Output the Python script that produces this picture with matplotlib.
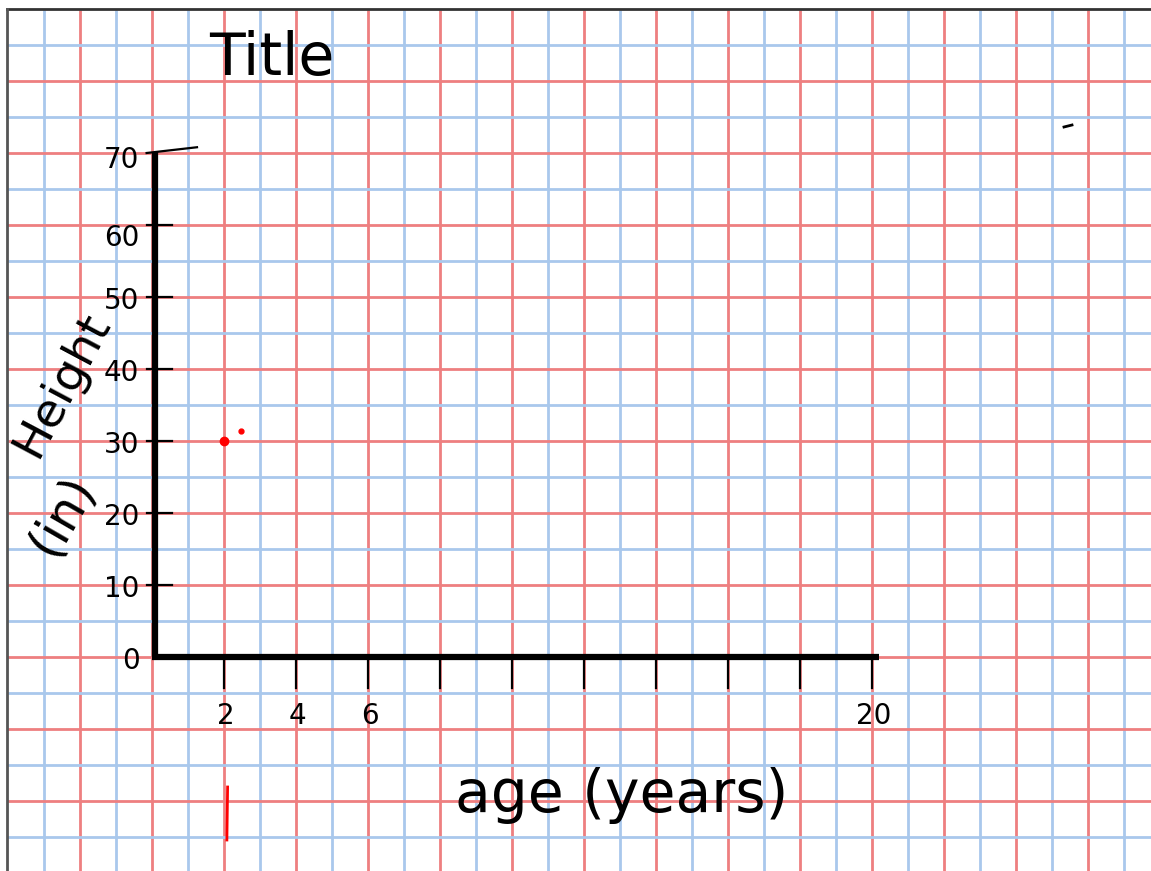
import matplotlib
matplotlib.use("Agg")
import matplotlib.pyplot as plt
import numpy as np

# ---- data ----
y_tick_values = [0, 10, 20, 30, 40, 50, 60, 70]
y_tick_labels = ["0", "10", "20", "30", "40", "50", "60", "70"]
x_tick_values = [2, 4, 6, 8, 10, 12, 14, 16, 18, 20]
x_tick_labels = ["2", "4", "6", "", "", "", "", "", "", "20"]
point_age = [2]
point_height = [30]
stray_age = [2.47]
stray_height = [31.4]
title_text = "Title"
x_label = "age (years)"
y_label = "Height"
y_unit = "(in)"

# ---- figure / pixel mapping ----
W, H = 1151, 871
fig = plt.figure(figsize=(W / 100, H / 100), dpi=100)
ax = fig.add_axes([0, 0, 1, 1])
X0, PXX = 152.0, 36.0      # pixel of x=0, pixels per unit
Y0, PXY = 657.0, 7.2       # pixel of y=0 (from top), pixels per unit
ax.set_xlim(-X0 / PXX, (W - X0) / PXX)
ax.set_ylim((Y0 - H) / PXY, Y0 / PXY)
ax.axis("off")

def px(x):
    return (x - X0) / PXX

def py(y):
    return (Y0 - y) / PXY

RED = "#ee7f80"
BLUE = "#a9c8ec"

# grid paper
for k in range(-3, 28):
    ax.plot([k, k], [py(H), py(10)], color=RED if k % 2 == 0 else BLUE,
            lw=2.0, zorder=1, solid_capstyle="butt")
for m in range(-5, 18):
    ax.plot([px(7), px(W)], [5 * m, 5 * m], color=RED if m % 2 == 0 else BLUE,
            lw=2.0, zorder=1, solid_capstyle="butt")
# page border
ax.plot([px(7), px(W)], [py(9), py(9)], color="#333333", lw=2, zorder=2)
ax.plot([px(7), px(7)], [py(9), py(H)], color="#555555", lw=2, zorder=2)

# axes
ax.plot([0.08, 0.08], [0, 70.2], color="black", lw=4.5, zorder=5, solid_capstyle="butt")
ax.plot([0, 20.2], [0, 0], color="black", lw=4.5, zorder=5, solid_capstyle="butt")

# y ticks + labels
for v, lab in zip(y_tick_values, y_tick_labels):
    if v == 0:
        continue
    x1 = 1.25 if v == 70 else 0.55
    ax.plot([-0.15, x1], [v, v + (0.8 if v == 70 else 0)], color="black", lw=1.6, zorder=5)
for v, lab in zip(y_tick_values, y_tick_labels):
    yoff = {0: -0.5, 60: -1.8, 70: -1.0}.get(v, -0.5)
    ax.text(-0.35, v + yoff, lab, ha="right", va="center", fontsize=20,
            family="DejaVu Sans", color="black", zorder=6)

# x ticks + labels
for v, lab in zip(x_tick_values, x_tick_labels):
    ax.plot([v, v], [0, -4.3], color="black", lw=1.6, zorder=5)
    if lab:
        ax.text(v + 0.05, -8.2, lab, ha="center", va="center", fontsize=20,
                family="DejaVu Sans", color="black", zorder=6)

# data points
ax.plot(point_age, point_height, "o", color="red", markersize=6, zorder=7)
ax.plot(stray_age, stray_height, "o", color="red", markersize=3.5, zorder=7)
# red stroke under the 2
ax.plot([2.1, 2.08], [py(787), py(840)], color="red", lw=2, zorder=7)
# small stray mark top right
ax.plot([px(1064), px(1072)], [py(127), py(125)], color="black", lw=2, zorder=7)

# titles / labels
ax.text(px(272), py(58), title_text, ha="center", va="center", fontsize=42,
        family="DejaVu Sans", color="black", zorder=6)
ax.text(px(622), py(795), x_label, ha="center", va="center", fontsize=42,
        family="DejaVu Sans", color="black", zorder=6)
ax.text(px(62), py(385), y_label, ha="center", va="center", fontsize=34,
        rotation=62, family="DejaVu Sans", color="black", zorder=6)
ax.text(px(62), py(515), y_unit, ha="center", va="center", fontsize=36,
        rotation=60, family="DejaVu Sans", color="black", zorder=6)

fig.savefig("out.png", dpi=100, facecolor="white")
